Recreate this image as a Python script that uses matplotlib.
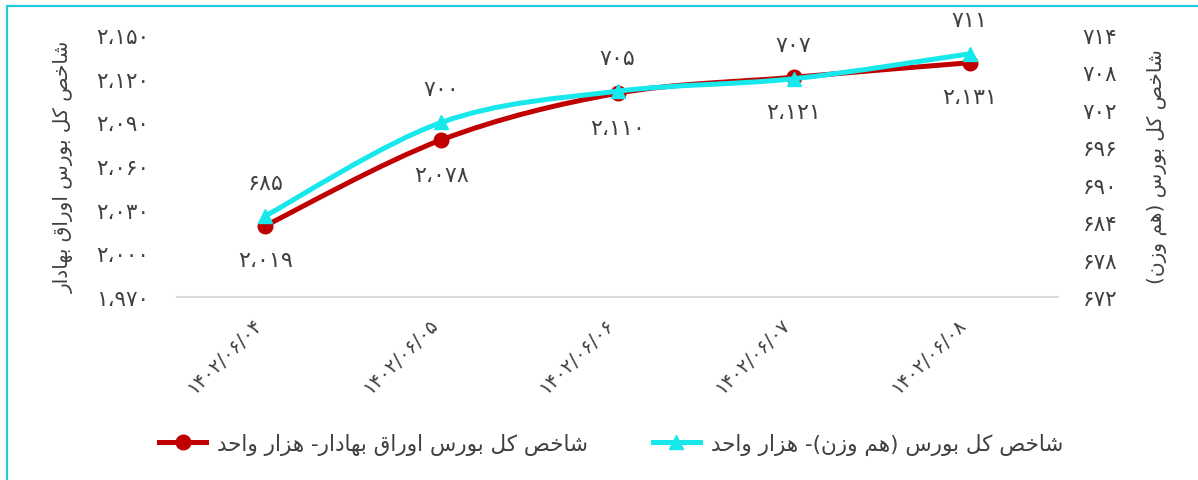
import matplotlib.pyplot as plt
from matplotlib.path import Path
from matplotlib.patches import PathPatch, Rectangle
from matplotlib.lines import Line2D

# data
dates = ['1402/06/04', '1402/06/05', '1402/06/06', '1402/06/07', '1402/06/08']
bond_index = [2019, 2078, 2110, 2121, 2131]        # left axis (red)
equal_weight = [685, 700, 705, 707, 711]           # right axis (cyan)
left_ticks = [1970, 2000, 2030, 2060, 2090, 2120, 2150]
right_ticks = [672, 678, 684, 690, 696, 702, 708, 714]

left_title = 'شاخص کل بورس اوراق بهادار'
right_title = 'شاخص کل بورس (هم وزن)'
legend_red = 'شاخص کل بورس اوراق بهادار- هزار واحد'
legend_cyan = 'شاخص کل بورس (هم وزن)- هزار واحد'

RED = '#C00000'
CYAN = '#17E8EC'
TXT = '#404040'

# --- minimal arabic shaping (no reshaper available) ---
FORMS = {
    'ا': ('\uFE8D', '\uFE8E', None, None),
    'ب': ('\uFE8F', '\uFE90', '\uFE91', '\uFE92'),
    'ح': ('\uFEA1', '\uFEA2', '\uFEA3', '\uFEA4'),
    'خ': ('\uFEA5', '\uFEA6', '\uFEA7', '\uFEA8'),
    'د': ('\uFEA9', '\uFEAA', None, None),
    'ر': ('\uFEAD', '\uFEAE', None, None),
    'ز': ('\uFEAF', '\uFEB0', None, None),
    'س': ('\uFEB1', '\uFEB2', '\uFEB3', '\uFEB4'),
    'ش': ('\uFEB5', '\uFEB6', '\uFEB7', '\uFEB8'),
    'ص': ('\uFEB9', '\uFEBA', '\uFEBB', '\uFEBC'),
    'ق': ('\uFED5', '\uFED6', '\uFED7', '\uFED8'),
    'ک': ('\uFB8E', '\uFB8F', '\uFB90', '\uFB91'),
    'ل': ('\uFEDD', '\uFEDE', '\uFEDF', '\uFEE0'),
    'م': ('\uFEE1', '\uFEE2', '\uFEE3', '\uFEE4'),
    'ن': ('\uFEE5', '\uFEE6', '\uFEE7', '\uFEE8'),
    'ه': ('\uFEE9', '\uFEEA', '\uFEEB', '\uFEEC'),
    'و': ('\uFEED', '\uFEEE', None, None),
}


def shape(text):
    out = []
    n = len(text)
    for i, ch in enumerate(text):
        if ch not in FORMS:
            out.append(ch)
            continue
        f = FORMS[ch]
        prev = text[i - 1] if i > 0 else ''
        nxt = text[i + 1] if i < n - 1 else ''
        join_prev = prev in FORMS and FORMS[prev][2] is not None
        join_next = f[2] is not None and nxt in FORMS
        if join_prev and join_next:
            out.append(f[3])
        elif join_prev:
            out.append(f[1])
        elif join_next:
            out.append(f[2])
        else:
            out.append(f[0])
    vis = ''.join(reversed(out))
    return vis.translate(str.maketrans('()', ')('))


FA = str.maketrans('0123456789', '۰۱۲۳۴۵۶۷۸۹')


def fa_num(v):
    return f'{v:,}'.replace(',', '،').translate(FA)


plt.rcParams['font.family'] = ['DejaVu Sans']

fig = plt.figure(figsize=(11.98, 4.81), dpi=100)
ax = fig.add_axes([0.148, 0.3805, 0.735, 0.5445])
ax2 = ax.twinx()

# outer frame (only left/top are in view)
fig.patches.append(Rectangle((0.006, -0.1), 1.2, 1.085, transform=fig.transFigure,
                             fill=False, edgecolor='#1FCBDD', lw=1.6))


def smooth(axis, xs, ys, color):
    pts = list(zip(xs, ys))
    n = len(pts)
    verts = [pts[0]]
    codes = [Path.MOVETO]
    for i in range(n - 1):
        p0 = pts[max(i - 1, 0)]
        p1 = pts[i]
        p2 = pts[i + 1]
        p3 = pts[min(i + 2, n - 1)]
        c1 = (p1[0] + (p2[0] - p0[0]) / 6, p1[1] + (p2[1] - p0[1]) / 6)
        c2 = (p2[0] - (p3[0] - p1[0]) / 6, p2[1] - (p3[1] - p1[1]) / 6)
        verts += [c1, c2, p2]
        codes += [Path.CURVE4] * 3
    axis.add_patch(PathPatch(Path(verts, codes), fill=False, edgecolor=color,
                             lw=3.6, capstyle='round', joinstyle='round'))


x = list(range(len(dates)))

smooth(ax, x, bond_index, RED)
ax.plot(x, bond_index, ls='none', marker='o', ms=10.5, color=RED)
for xi, v in zip(x, bond_index):
    ax.annotate(fa_num(v), (xi, v), xytext=(0, -25), textcoords='offset points',
                ha='center', va='center', fontsize=16, color=TXT)

smooth(ax2, x, equal_weight, CYAN)
ax2.plot(x, equal_weight, ls='none', marker='^', ms=10.5, color=CYAN)
for xi, v in zip(x, equal_weight):
    ax2.annotate(fa_num(v), (xi, v), xytext=(0, 24), textcoords='offset points',
                 ha='center', va='center', fontsize=16, color=TXT)

ax.set_xlim(-0.5, len(dates) - 0.5)
ax.set_ylim(left_ticks[0], left_ticks[-1])
ax2.set_ylim(right_ticks[0], right_ticks[-1])
ax.set_yticks(left_ticks)
ax.set_yticklabels([fa_num(v) for v in left_ticks])
ax2.set_yticks(right_ticks)
ax2.set_yticklabels([fa_num(v) for v in right_ticks])
ax.set_xticks(x)
ax.set_xticklabels([d.translate(FA) for d in dates], rotation=45, ha='right', va='top')

for a in (ax, ax2):
    for s in a.spines.values():
        s.set_visible(False)
    a.tick_params(length=0, labelsize=15.5, colors=TXT)
    a.patch.set_visible(False)
ax.tick_params(axis='x', labelsize=14)
ax.spines['bottom'].set_visible(True)
ax.spines['bottom'].set_color('#D9D9D9')
ax.spines['bottom'].set_linewidth(1.5)
ax.tick_params(axis='y', pad=20)
ax.tick_params(axis='x', pad=12)
ax2.tick_params(axis='y', pad=18)

ax.set_ylabel(shape(left_title), fontsize=14.5, color=TXT, rotation=90)
ax.yaxis.set_label_coords(-0.118, 0.5)
ax2.set_ylabel(shape(right_title), fontsize=14.5, color=TXT, rotation=90)
ax2.yaxis.set_label_coords(1.101, 0.5)

handles = [Line2D([], [], color=RED, lw=3.6, marker='o', ms=10.5),
           Line2D([], [], color=CYAN, lw=3.6, marker='^', ms=10.5)]
fig.legend(handles, [shape(legend_red), shape(legend_cyan)], loc='center',
           bbox_to_anchor=(0.51, 0.075), ncol=2, frameon=False, fontsize=15.5,
           labelcolor=TXT, handlelength=2.2, handletextpad=0.5, columnspacing=3.0)

fig.savefig('out.png', dpi=100)
